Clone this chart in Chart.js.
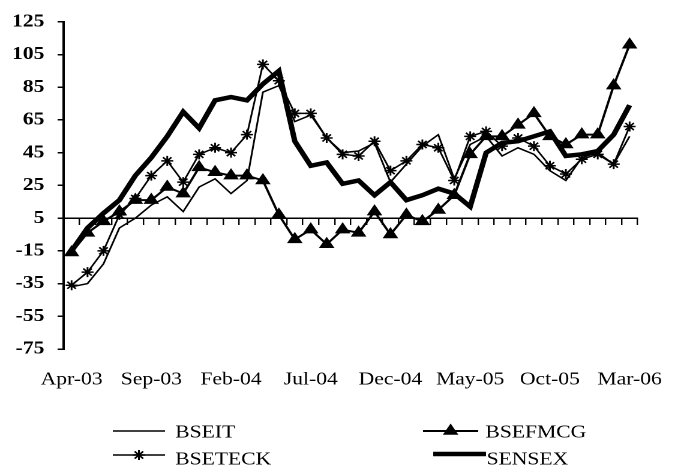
<!DOCTYPE html>
<html>
<head>
<meta charset="utf-8">
<script src="https://cdn.jsdelivr.net/npm/chart.js@4.4.1/dist/chart.umd.min.js"></script>
<style>
  html, body { margin: 0; padding: 0; background: #fff; overflow: hidden; }
  /* the chart is laid out on a narrower canvas and widened horizontally */
  #wrap { position: absolute; left: 0; top: 0; width: 572px; height: 470px;
          transform: scaleX(1.2); transform-origin: 0 0; }
</style>
</head>
<body>
<div id="wrap"><canvas id="c" width="572" height="470"></canvas></div>
<script>
// Monthly categories, April 2003 to March 2006
const months = [
  'Apr-03','May-03','Jun-03','Jul-03','Aug-03','Sep-03','Oct-03','Nov-03','Dec-03',
  'Jan-04','Feb-04','Mar-04','Apr-04','May-04','Jun-04','Jul-04','Aug-04','Sep-04',
  'Oct-04','Nov-04','Dec-04','Jan-05','Feb-05','Mar-05','Apr-05','May-05','Jun-05',
  'Jul-05','Aug-05','Sep-05','Oct-05','Nov-05','Dec-05','Jan-06','Feb-06','Mar-06'
];

// Index series values
const bseit = [
  -37, -35, -23, -1, 5, 13, 18, 9, 24, 29, 20, 28,
   82, 86, 64, 68, 54, 45, 46, 51, 27, 38, 49, 56,
   29, 50, 55, 43, 48, 44, 34, 28, 42, 45, 38, 55
];
const bsefmcg = [
  -16, -4, 3, 9, 16, 16, 24, 20, 36, 33, 31, 31,
   28, 7, -8, -2, -11, -2, -4, 9, -5, 7, 3, 10,
   19, 44, 55, 55, 62, 69, 55, 50, 56, 56, 86, 111
];
const bseteck = [
  -36, -28, -15, 7, 17, 31, 40, 27, 44, 48, 45, 56,
   99, 89, 69, 69, 54, 44, 43, 52, 34, 40, 50, 48,
   28, 55, 58, 49, 54, 49, 37, 32, 41, 44, 38, 61
];
const sensex = [
  -15, -1, 8, 16, 31, 42, 55, 70, 60, 77, 79, 77,
   87, 95, 52, 37, 39, 26, 28, 19, 27, 16, 19, 23,
   20, 12, 45, 51, 52, 55, 58, 43, 44, 46, 56, 74
];

// Value axis range and the level where the category axis crosses it
const yMin = -75, yMax = 125, yStep = 20, axisCross = 5;
// Every fifth month carries a label
const labelEvery = 5;

const serif = "'Liberation Serif', 'Times New Roman', serif";

// Two-column legend drawn under the plot: line sample, marker, name
const legendLayout = [
  { ds: 0, x0: 94,    x1: 137.5, lineY: 431, textX: 146,   textY: 433 },
  { ds: 1, x0: 352.5, x1: 398.5, lineY: 431, textX: 404.5, textY: 433 },
  { ds: 2, x0: 94,    x1: 137.5, lineY: 455, textX: 146,   textY: 460 },
  { ds: 3, x0: 361,   x1: 405,   lineY: 454, textX: 405.5, textY: 460 }
];

const legendPlugin = {
  id: 'pairLegend',
  afterDraw(chart) {
    const ctx = chart.ctx;
    const helpers = Chart.helpers || {};
    ctx.save();
    legendLayout.forEach(item => {
      const ds = chart.data.datasets[item.ds];
      ctx.strokeStyle = ds.borderColor;
      ctx.fillStyle = ds.borderColor;
      ctx.lineWidth = ds.borderWidth;
      ctx.lineCap = 'butt';
      ctx.beginPath();
      ctx.moveTo(item.x0, item.lineY);
      ctx.lineTo(item.x1, item.lineY);
      ctx.stroke();
      if (ds.pointRadius > 0 && helpers.drawPoint) {
        ctx.lineWidth = ds.pointBorderWidth;
        helpers.drawPoint(ctx, {
          pointStyle: ds.pointStyle, rotation: 0,
          radius: ds.pointRadius, borderWidth: ds.pointBorderWidth
        }, (item.x0 + item.x1) / 2, item.lineY);
      }
      ctx.fillStyle = '#000';
      ctx.font = '18px ' + serif;
      ctx.textAlign = 'left';
      ctx.textBaseline = 'middle';
      ctx.fillText(ds.label, item.textX, item.textY);
    });
    ctx.restore();
  }
};

new Chart(document.getElementById('c'), {
  type: 'line',
  data: {
    labels: months,
    datasets: [
      { label: 'BSEIT', data: bseit, borderColor: '#000', borderWidth: 1.5,
        pointRadius: 0, order: 3 },
      { label: 'BSEFMCG', data: bsefmcg, borderColor: '#000', backgroundColor: '#000',
        borderWidth: 2, pointStyle: 'triangle', pointRadius: 6.5,
        pointBackgroundColor: '#000', pointBorderColor: '#000', pointBorderWidth: 1, order: 2 },
      { label: 'BSETECK', data: bseteck, borderColor: '#000', backgroundColor: '#000',
        borderWidth: 1.5, pointStyle: 'star', pointRadius: 5,
        pointBorderColor: '#000', pointBorderWidth: 1.5, order: 1 },
      { label: 'SENSEX', data: sensex, borderColor: '#000', borderWidth: 4.5,
        pointRadius: 0, order: 0 }
    ]
  },
  options: {
    responsive: false,
    animation: false,
    devicePixelRatio: 2,
    layout: { padding: { left: 0, right: 37, top: 18, bottom: 76 } },
    elements: { line: { tension: 0, borderJoinStyle: 'miter' } },
    plugins: { legend: { display: false }, tooltip: { enabled: false } },
    scales: {
      x: {
        type: 'category',
        position: 'bottom',
        offset: true,
        border: { display: false },
        grid: { display: false, drawTicks: false },
        ticks: {
          autoSkip: false, maxRotation: 0, minRotation: 0, padding: 20, color: '#000',
          font: { family: serif, size: 18 },
          callback: (v, i) => (i % labelEvery === 0 ? months[i] : '')
        },
        afterFit: s => { s.height = 45; }
      },
      xCross: {
        type: 'category',
        labels: months,
        offset: true,
        position: { y: axisCross },
        border: { display: true, color: '#000', width: 1.5 },
        grid: { display: true, offset: true, drawOnChartArea: false, drawTicks: true,
                tickLength: 6, color: '#000', lineWidth: 1.2 },
        ticks: { display: false }
      },
      y: {
        type: 'linear',
        position: 'left',
        min: yMin, max: yMax,
        border: { display: true, color: '#000', width: 2 },
        grid: { drawOnChartArea: false, drawTicks: true, tickLength: 5, color: '#000', lineWidth: 1.5 },
        ticks: { stepSize: yStep, padding: 11, color: '#000',
                 font: { family: serif, size: 18, weight: 'bold' } },
        afterFit: s => { s.width = 53; }
      }
    }
  },
  plugins: [legendPlugin]
});
</script>
</body>
</html>
